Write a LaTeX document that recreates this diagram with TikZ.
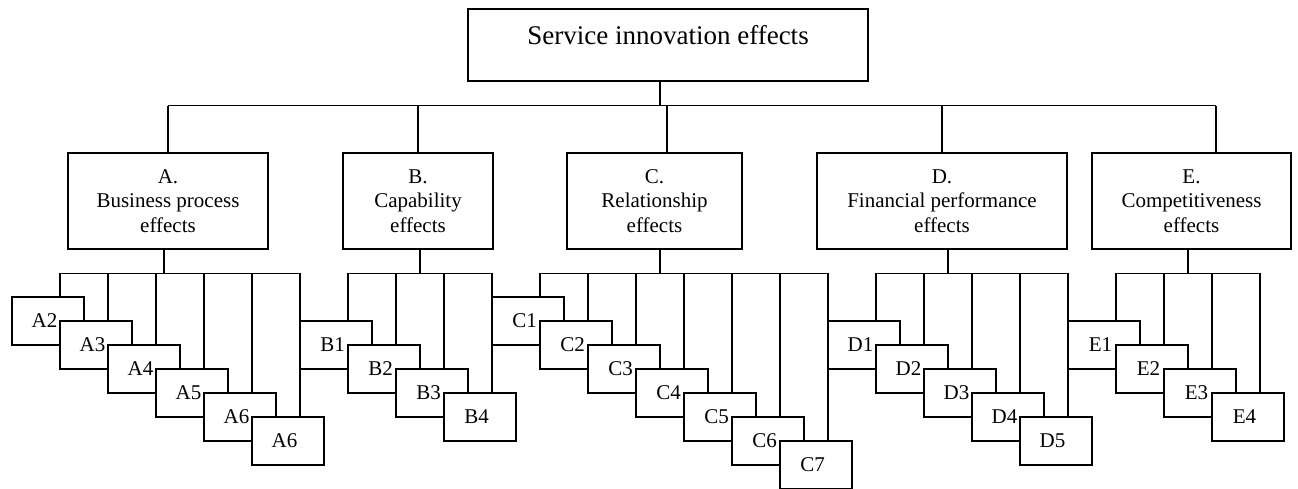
\documentclass[tikz,border=0pt]{standalone}
\usepackage{fontspec}
\setmainfont{Liberation Serif}
\begin{document}
\begin{tikzpicture}[x=1pt,y=-1pt,
  every node/.style={font=\fontsize{21}{24.5}\selectfont},
  box/.style={draw, line width=1.3pt, fill=white, inner sep=0pt},
  leaf/.style={box, minimum width=72pt, minimum height=48pt},
  cat/.style={box, minimum height=96pt, align=center},
  conn/.style={line width=1.3pt}]
\useasboundingbox (0,0) rectangle (1298,488);

% root
\node[box, minimum width=400pt, minimum height=72pt] (top) at (668,45) {};
\node[anchor=base, font=\fontsize{27}{30}\selectfont] (toptxt) at (668,44) {Service innovation effects};

% categories
\node[cat, minimum width=200pt] (A) at (168,201) {A.\\Business process\\effects};
\node[cat, minimum width=150pt] (B) at (418,201) {B.\\Capability\\effects};
\node[cat, minimum width=175pt] (C) at (654.5,201) {C.\\Relationship\\effects};
\node[cat, minimum width=250pt] (D) at (942,201) {D.\\Financial performance\\effects};
\node[cat, minimum width=199pt] (E) at (1191.5,201) {E.\\Competitiveness\\effects};

% root connectors
\coordinate (tb) at ([xshift=-8pt,yshift=-24pt]top.south);
\draw[conn] ([xshift=-8pt]top.south) -- (tb);
\coordinate (Ain) at (A.north);
\coordinate (Bin) at (B.north);
\coordinate (Cin) at ([xshift=12.5pt]C.north);
\coordinate (Din) at (D.north);
\coordinate (Ein) at ([xshift=24.5pt]E.north);
\draw[conn] (Ain |- tb) -- (Ein |- tb);
\foreach \p in {A,B,C,D,E}
  \draw[conn] (\p in) -- (\p in |- tb);

% leaves
\foreach \n/\txt/\l/\t in {
  A2/A2/12/297, A3/A3/60/321, A4/A4/108/345, A5/A5/156/369, A6/A6/204/393, A6b/A6/252/417,
  B1/B1/300/321, B2/B2/348/345, B3/B3/396/369, B4/B4/444/393,
  C1/C1/492/297, C2/C2/540/321, C3/C3/588/345, C4/C4/636/369, C5/C5/684/393, C6/C6/732/417, C7/C7/780/441,
  D1/D1/828/321, D2/D2/876/345, D3/D3/924/369, D4/D4/972/393, D5/D5/1020/417,
  E1/E1/1068/321, E2/E2/1116/345, E3/E3/1164/369, E4/E4/1212/393}
  \node[leaf] (\n) at (\l+36,\t+24) {\kern-7pt\txt};

% category to leaf connectors
\foreach \p/\dx/\kids in {
  A/-4/{A2,A3,A4,A5,A6,A6b},
  B/2/{B1,B2,B3,B4},
  C/5.5/{C1,C2,C3,C4,C5,C6,C7},
  D/6/{D1,D2,D3,D4,D5},
  E/-3.5/{E1,E2,E3,E4}}{
  \draw[conn] ([xshift=\dx pt]\p.south) -- ++(0,24) coordinate (\p bar);
  \foreach \k in \kids
    \draw[conn] ([xshift=12pt]\k.north) |- (\p bar);
}
\end{tikzpicture}
\end{document}
